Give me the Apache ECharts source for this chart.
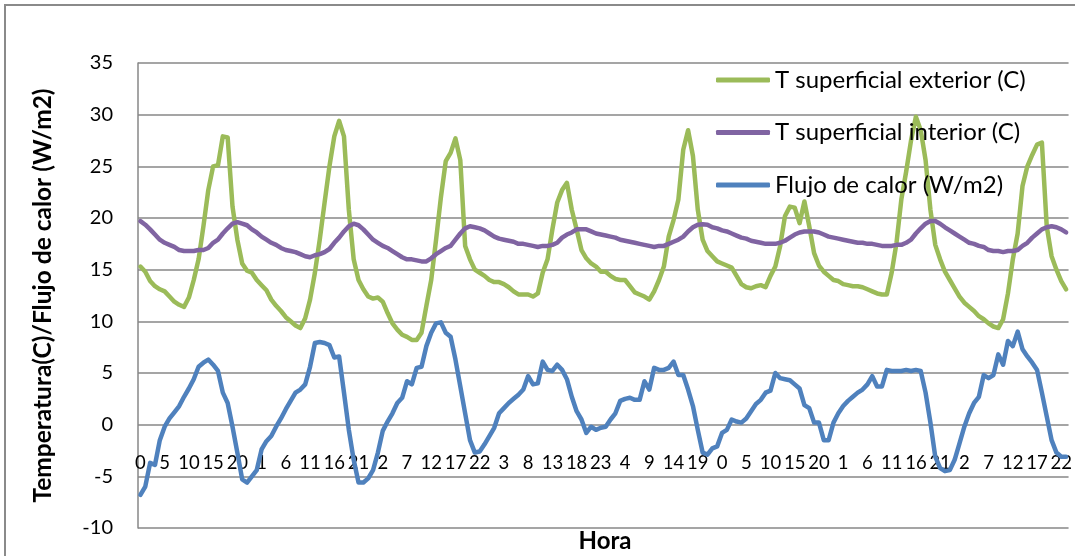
<!DOCTYPE html>
<html>
<head>
<meta charset="utf-8">
<script src="https://cdn.jsdelivr.net/npm/echarts@6/dist/echarts.min.js"></script>
<style>
  html, body { margin: 0; padding: 0; background: #ffffff; }
  #chart { width: 1075px; height: 556px; }
</style>
</head>
<body>
<div id="chart"></div>
<script>
// Hourly readings over eight consecutive days (one row per day, hours 0..23)
const hourLabels = [];
for (let d = 0; d < 8; d++) {
  for (let h = 0; h < 24; h++) hourLabels.push(String(h));
}

const tExterior = [
  15.3, 14.8, 13.9, 13.4, 13.1, 12.9, 12.4, 11.9, 11.6, 11.4, 12.3, 14.0, 16.0, 19.2, 22.7, 25.0, 25.1, 27.9, 27.8, 21.1, 17.9, 15.6, 14.9, 14.7,
  14.0, 13.5, 13.0, 12.1, 11.5, 11.0, 10.4, 10.0, 9.6, 9.35, 10.3, 12.1, 14.7, 17.9, 21.5, 25.0, 27.9, 29.4, 27.9, 20.8, 16.0, 14.0, 13.1, 12.4,
  12.2, 12.3, 11.9, 10.8, 9.8, 9.2, 8.7, 8.5, 8.2, 8.2, 8.9, 11.5, 14.0, 17.9, 22.0, 25.5, 26.3, 27.7, 25.6, 17.3, 16.0, 15.0, 14.7, 14.4,
  14.0, 13.8, 13.8, 13.6, 13.3, 12.9, 12.6, 12.6, 12.6, 12.4, 12.7, 14.7, 16.0, 18.9, 21.5, 22.7, 23.4, 20.8, 18.9, 16.9, 16.1, 15.6, 15.3, 14.8,
  14.8, 14.4, 14.1, 14.0, 14.0, 13.4, 12.8, 12.6, 12.4, 12.1, 12.9, 14.0, 15.3, 18.2, 19.8, 21.8, 26.6, 28.5, 26.0, 20.8, 17.9, 16.8, 16.3, 15.8,
  15.6, 15.4, 15.2, 14.4, 13.6, 13.3, 13.2, 13.4, 13.5, 13.3, 14.4, 15.3, 17.3, 20.2, 21.1, 21.0, 19.5, 21.6, 19.2, 16.6, 15.4, 14.8, 14.4, 14.0,
  13.9, 13.6, 13.5, 13.4, 13.4, 13.3, 13.1, 12.9, 12.7, 12.6, 12.6, 14.7, 17.6, 21.8, 24.5, 27.5, 29.8, 28.5, 25.6, 20.8, 17.4, 16.0, 14.8, 14.0,
  13.2, 12.4, 11.8, 11.4, 11.0, 10.5, 10.2, 9.8, 9.5, 9.35, 10.2, 12.7, 16.0, 18.5, 23.1, 25.0, 26.1, 27.1, 27.3, 19.2, 16.3, 15.0, 13.9, 13.1
];

const tInterior = [
  19.7, 19.35, 18.9, 18.4, 17.9, 17.6, 17.4, 17.2, 16.9, 16.8, 16.8, 16.8, 16.9, 16.9, 17.1, 17.6, 17.9, 18.5, 19.0, 19.45, 19.6, 19.45, 19.3, 18.9,
  18.6, 18.2, 17.9, 17.6, 17.4, 17.1, 16.9, 16.8, 16.7, 16.5, 16.3, 16.2, 16.4, 16.5, 16.7, 17.0, 17.6, 18.1, 18.7, 19.2, 19.45, 19.3, 18.9, 18.4,
  17.9, 17.6, 17.3, 17.1, 16.8, 16.5, 16.2, 16.0, 16.0, 15.9, 15.8, 15.8, 16.1, 16.5, 16.8, 17.1, 17.3, 17.9, 18.5, 19.0, 19.2, 19.1, 19.0, 18.8,
  18.5, 18.2, 18.0, 17.9, 17.8, 17.7, 17.5, 17.5, 17.4, 17.3, 17.2, 17.3, 17.3, 17.4, 17.6, 18.1, 18.4, 18.6, 18.9, 18.9, 18.9, 18.7, 18.5, 18.4,
  18.3, 18.2, 18.1, 17.9, 17.8, 17.7, 17.6, 17.5, 17.4, 17.3, 17.2, 17.3, 17.3, 17.5, 17.7, 17.9, 18.2, 18.7, 19.1, 19.35, 19.4, 19.35, 19.1, 19.0,
  18.8, 18.7, 18.5, 18.3, 18.1, 18.0, 17.8, 17.7, 17.6, 17.5, 17.5, 17.5, 17.6, 17.8, 18.1, 18.4, 18.6, 18.7, 18.7, 18.7, 18.6, 18.4, 18.2, 18.1,
  18.0, 17.9, 17.8, 17.7, 17.6, 17.6, 17.5, 17.5, 17.4, 17.3, 17.3, 17.3, 17.4, 17.4, 17.6, 17.9, 18.5, 19.0, 19.45, 19.7, 19.7, 19.45, 19.1, 18.8,
  18.5, 18.2, 17.9, 17.6, 17.5, 17.3, 17.2, 16.9, 16.8, 16.8, 16.7, 16.8, 16.8, 16.9, 17.3, 17.6, 18.1, 18.5, 18.9, 19.1, 19.2, 19.1, 18.9, 18.6
];

const heatFlux = [
  -6.8, -6.0, -3.7, -3.9, -1.5, -0.2, 0.6, 1.2, 1.8, 2.7, 3.5, 4.4, 5.6, 6.0, 6.3, 5.8, 5.2, 3.1, 2.1, -0.2, -2.7, -5.3, -5.6, -5.0,
  -4.4, -2.4, -1.6, -1.1, -0.2, 0.6, 1.5, 2.3, 3.1, 3.4, 3.9, 5.6, 7.9, 8.0, 7.9, 7.7, 6.5, 6.6, 3.1, -0.5, -3.4, -5.6, -5.6, -5.2,
  -4.4, -2.7, -0.6, 0.3, 1.1, 2.1, 2.6, 4.2, 3.9, 5.5, 5.6, 7.6, 8.9, 9.8, 9.9, 8.9, 8.5, 6.3, 3.7, 1.1, -1.5, -2.7, -2.6, -1.9,
  -1.1, -0.3, 1.1, 1.6, 2.1, 2.5, 2.9, 3.4, 4.7, 3.9, 4.0, 6.1, 5.3, 5.2, 5.8, 5.3, 4.4, 2.7, 1.3, 0.5, -0.8, -0.2, -0.5, -0.3,
  -0.2, 0.5, 1.1, 2.3, 2.5, 2.6, 2.4, 2.4, 4.2, 3.4, 5.5, 5.3, 5.3, 5.5, 6.1, 4.8, 4.8, 3.4, 1.8, -0.5, -2.7, -2.9, -2.3, -2.1,
  -0.8, -0.5, 0.5, 0.3, 0.2, 0.6, 1.3, 2.0, 2.4, 3.1, 3.3, 5.0, 4.5, 4.4, 4.3, 3.9, 3.5, 1.9, 1.6, 0.2, 0.2, -1.5, -1.5, 0.2,
  1.1, 1.8, 2.3, 2.7, 3.1, 3.4, 3.9, 4.7, 3.7, 3.7, 5.3, 5.2, 5.2, 5.2, 5.3, 5.2, 5.3, 5.2, 3.1, 0.2, -3.1, -4.2, -4.5, -4.4,
  -3.4, -1.8, -0.2, 1.1, 2.1, 2.7, 4.8, 4.5, 4.8, 6.8, 5.8, 8.1, 7.6, 9.0, 7.3, 6.6, 6.0, 5.3, 3.1, 0.8, -1.5, -2.7, -3.1, -3.1
];

const seriesNames = ['T superficial exterior (C)', 'T superficial interior (C)', 'Flujo de calor (W/m2)'];
const seriesColors = ['#9BBB59', '#8064A2', '#4F81BD'];
const seriesData = [tExterior, tInterior, heatFlux];

const FONT = 'Lato, "Open Sans", sans-serif';
const GRID_GREY = '#878787';

const chart = echarts.init(document.getElementById('chart'), null, { renderer: 'canvas' });

chart.setOption({
  animation: false,
  backgroundColor: '#ffffff',
  textStyle: { fontFamily: FONT },
  graphic: [
    {
      type: 'rect',
      shape: { x: 5, y: 5, width: 1090, height: 570 },
      style: { fill: 'none', stroke: '#8a8a8a', lineWidth: 2 },
      silent: true
    },
    {
      // horizontal axis title, centred under the plot area
      type: 'text',
      x: 605, y: 541,
      style: {
        text: 'Hora', font: 'bold 24px ' + FONT, fill: '#000',
        align: 'center', verticalAlign: 'middle'
      },
      silent: true
    }
  ],
  grid: {
    left: 138, top: 63, right: 3, bottom: 28,
    containLabel: false
  },
  legend: {
    orient: 'vertical',
    left: 716, top: 66,
    padding: 0,
    icon: 'roundRect',
    itemWidth: 54, itemHeight: 5, itemGap: 24.5,
    textStyle: { fontFamily: FONT, fontSize: 24, color: '#000', lineHeight: 28 },
    data: seriesNames
  },
  xAxis: {
    type: 'category',
    data: hourLabels,
    boundaryGap: true,
    axisLine: { show: false, onZero: false },
    axisTick: { show: false },
    // hour labels sit just under the zero line, inside the plot
    axisLabel: { inside: true, interval: 4, fontFamily: FONT, fontSize: 18.5, color: '#000', margin: 55 },
    splitLine: { show: false }
  },
  yAxis: {
    type: 'value',
    min: -10, max: 35, interval: 5,
    name: 'Temperatura(C)/Flujo de calor (W/m2)',
    nameLocation: 'middle',
    nameGap: 82,
    nameTextStyle: { fontFamily: FONT, fontSize: 24.5, fontWeight: 'bold', color: '#000' },
    axisLine: { show: true, lineStyle: { color: GRID_GREY, width: 1.5 } },
    axisTick: { show: false },
    axisLabel: { fontFamily: FONT, fontSize: 20, color: '#000', margin: 25 },
    splitLine: { show: true, lineStyle: { color: GRID_GREY, width: 1.5 } }
  },
  series: seriesNames.map((n, k) => ({
    name: n,
    type: 'line',
    data: seriesData[k],
    symbol: 'none',
    smooth: false,
    z: 2 + k,
    lineStyle: { color: seriesColors[k], width: 4.5, cap: 'round', join: 'round' },
    itemStyle: { color: seriesColors[k] }
  }))
});
</script>
</body>
</html>
